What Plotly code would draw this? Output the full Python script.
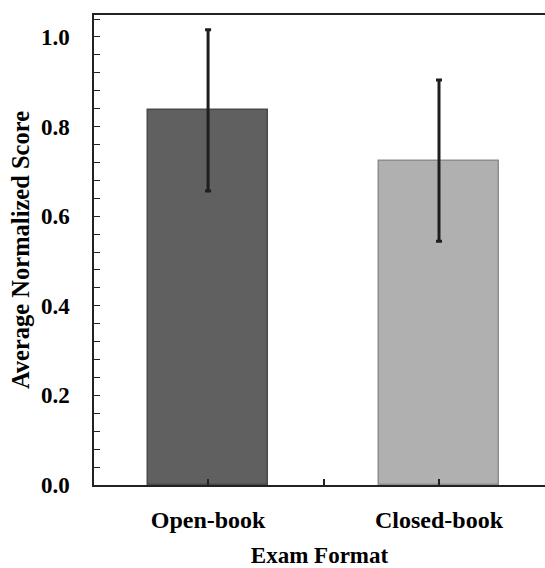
import plotly.graph_objects as go

categories = ["Open-book", "Closed-book"]
scores = [0.836, 0.724]
errors = [0.180, 0.180]
bar_colors = ["#606060", "#b0b0b0"]
edge_colors = ["#4a4a4a", "#8e8e8e"]
y_ticks = [0.0, 0.2, 0.4, 0.6, 0.8, 1.0]

positions = list(range(len(categories)))

fig = go.Figure()
fig.add_trace(go.Bar(
    x=positions,
    y=scores,
    width=0.52,
    marker=dict(color=bar_colors, line=dict(color=edge_colors, width=1.5)),
    error_y=dict(type="data", array=errors, visible=True,
                 color="#1e1e1e", thickness=3, width=3),
    showlegend=False,
))

font_family = "Liberation Serif, Times New Roman, serif"

fig.update_layout(
    width=545, height=568,
    margin=dict(l=94, r=0, t=15, b=83),
    paper_bgcolor="white", plot_bgcolor="white",
    font=dict(family=font_family, color="black"),
    bargap=0,
)

fig.update_xaxes(
    automargin=False,
    range=[-0.494, 1.459],
    tickvals=[0, 0.5, 1],
    ticktext=[f"<b>{categories[0]}</b>", "", f"<b>{categories[1]}</b>"],
    ticks="inside", ticklen=6, tickwidth=1.5, tickcolor="#222",
    tickfont=dict(size=24, family=font_family),
    ticklabelstandoff=12,
    showline=True, linecolor="#222", linewidth=2, mirror=True,
    showgrid=False, zeroline=False,
    title=dict(text="<b>Exam Format</b>", font=dict(size=23, family=font_family), standoff=17),
)

fig.update_yaxes(
    automargin=False,
    range=[0, 1.049],
    tickvals=y_ticks,
    ticktext=[f"<b>{v:.1f}</b>" for v in y_ticks],
    ticks="inside", ticklen=6, tickwidth=1.2, tickcolor="#222",
    minor=dict(dtick=0.04, tick0=0, ticks="inside", ticklen=6, tickwidth=1.2, tickcolor="#222"),
    tickfont=dict(size=23, family=font_family),
    ticklabelstandoff=18,
    showline=True, linecolor="#222", linewidth=1.5, mirror=False,
    showgrid=False, zeroline=False,
    title=dict(text="<b>Average Normalized Score</b>", font=dict(size=24.5, family=font_family), standoff=4),
)

fig.write_html(
    "out.html",
    config={"displayModeBar": False},
    post_script="document.body.style.margin='0px';document.body.style.overflow='hidden';",
)
